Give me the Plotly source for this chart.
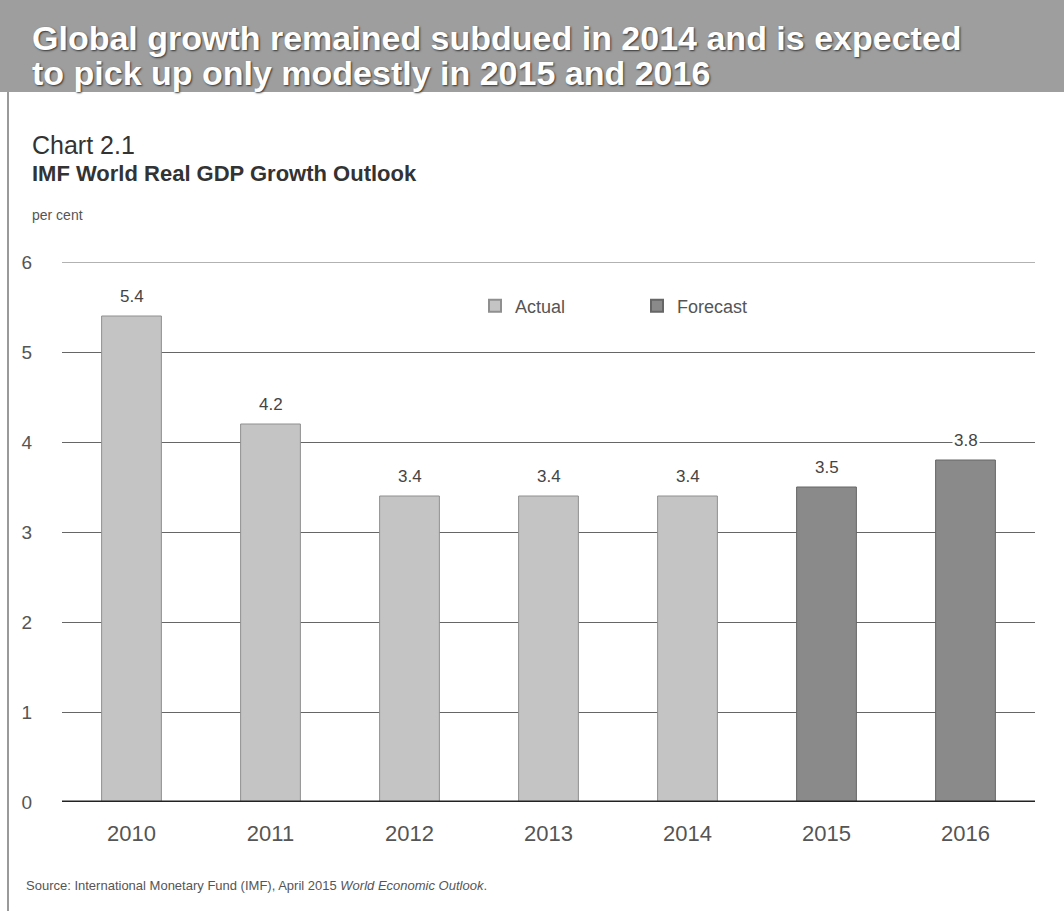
import plotly.graph_objects as go

years = ["2010", "2011", "2012", "2013", "2014", "2015", "2016"]
actual_years = ["2010", "2011", "2012", "2013", "2014"]
actual_vals = [5.4, 4.2, 3.4, 3.4, 3.4]
forecast_years = ["2015", "2016"]
forecast_vals = [3.5, 3.8]
y_ticks = [0, 1, 2, 3, 4, 5, 6]
title_lines = ["Global growth remained subdued in 2014 and is expected",
               "to pick up only modestly in 2015 and 2016"]

W, H = 1064, 911
X0, X1, YB, YT = 62, 1035, 802, 262


def px(x):
    return (x - X0) / (X1 - X0)


def py(y):
    return (YB - y) / (YB - YT)


FONT = "Liberation Sans, Arial, sans-serif"

fig = go.Figure()
fig.add_trace(go.Bar(x=actual_years, y=actual_vals, name="Actual",
                     marker=dict(color="#c4c4c4", line=dict(color="#8f8f8f", width=1)),
                     width=0.43))
fig.add_trace(go.Bar(x=forecast_years, y=forecast_vals, name="Forecast",
                     marker=dict(color="#8a8a8a", line=dict(color="#666", width=1)),
                     width=0.43))

annotations = []
for xs, vs in ((actual_years, actual_vals), (forecast_years, forecast_vals)):
    for x, v in zip(xs, vs):
        annotations.append(dict(x=years.index(x), y=v, xref="x", yref="y", text=f"{v:.1f}",
                                showarrow=False, yshift=20, bgcolor="white",
                                font=dict(family=FONT, size=17, color="#444")))

# header texts
for line, yc in zip(title_lines, (38, 73)):
    annotations.append(dict(x=px(30), y=py(yc), xref="paper", yref="paper",
                            xanchor="left", yanchor="middle", showarrow=False, text=line,
                            font=dict(family=FONT, size=34, color="white", weight="bold",
                                      shadow="1px 1px 2px #333")))
annotations += [
    dict(x=px(30), y=py(145), xref="paper", yref="paper", xanchor="left", yanchor="middle",
         showarrow=False, text="Chart 2.1", font=dict(family=FONT, size=25, color="#333")),
    dict(x=px(30), y=py(173), xref="paper", yref="paper", xanchor="left", yanchor="middle",
         showarrow=False, text="<b>IMF World Real GDP Growth Outlook</b>",
         font=dict(family=FONT, size=22, color="#333")),
    dict(x=px(30), y=py(215), xref="paper", yref="paper", xanchor="left", yanchor="middle",
         showarrow=False, text="per cent", font=dict(family=FONT, size=14, color="#555")),
    dict(x=px(24), y=py(885), xref="paper", yref="paper", xanchor="left", yanchor="middle",
         showarrow=False,
         text="Source: International Monetary Fund (IMF), April 2015 <i>World Economic Outlook</i>.",
         font=dict(family=FONT, size=13, color="#555")),
]

shapes = [
    dict(type="rect", xref="paper", yref="paper", x0=px(0), x1=px(W), y0=py(92), y1=py(0),
         fillcolor="#9e9e9e", line=dict(width=0), layer="below"),
    dict(type="line", xref="paper", yref="paper", x0=px(8), x1=px(8), y0=py(92), y1=py(H),
         line=dict(color="#9a9a9a", width=2)),
    dict(type="line", xref="paper", yref="y", x0=0, x1=1, y0=y_ticks[-1], y1=y_ticks[-1],
         line=dict(color="#666", width=1), layer="below"),
    dict(type="line", xref="paper", yref="y", x0=0, x1=1, y0=0, y1=0,
         line=dict(color="#222", width=3), layer="above"),
]

fig.update_layout(
    width=W, height=H,
    margin=dict(l=X0, r=W - X1, t=YT, b=H - YB, autoexpand=False),
    paper_bgcolor="white", plot_bgcolor="white",
    font=dict(family=FONT, color="#444"),
    barmode="group", bargap=0.57,
    showlegend=True,
    legend=dict(orientation="h", x=px(475), y=py(306), xanchor="left", yanchor="middle",
                font=dict(family=FONT, size=18, color="#555"), bgcolor="rgba(0,0,0,0)",
                entrywidth=117, itemsizing="constant"),
    xaxis=dict(type="category", categoryorder="array", categoryarray=years,
               range=[-0.5, len(years) - 0.5],
               showgrid=False, showline=False, ticks="",
               tickfont=dict(family=FONT, size=22, color="#555"), ticklabelstandoff=16),
    yaxis=dict(range=[0, 6], tickvals=y_ticks, showgrid=True, gridcolor="#666", gridwidth=1,
               zeroline=False, showline=False, ticks="",
               tickfont=dict(family=FONT, size=19, color="#555"), ticklabelstandoff=29),
    annotations=annotations, shapes=shapes,
)

fig.write_html("out.html")
